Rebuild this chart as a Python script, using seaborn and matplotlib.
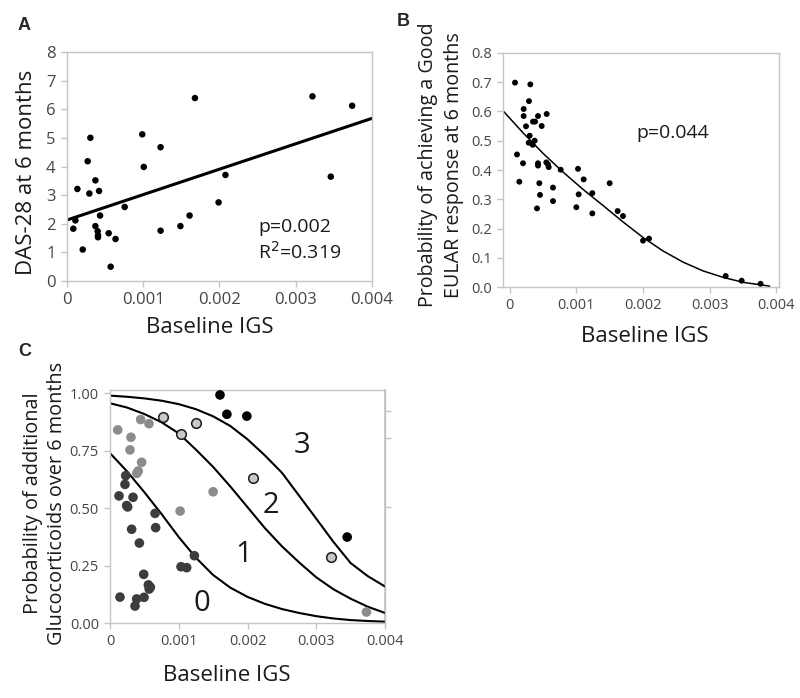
import numpy as np
import pandas as pd
import matplotlib
matplotlib.use("Agg")
import matplotlib.pyplot as plt
import seaborn as sns

# ---- panel A: DAS-28 vs baseline IGS ----
a_igs = [0.000087, 0.000114, 0.00014, 0.00021, 0.000275, 0.000297, 0.00031, 0.000376,
         0.000376, 0.000424, 0.000406, 0.00041, 0.00041, 0.000437, 0.00055, 0.000576,
         0.00064, 0.00076, 0.00099, 0.00101, 0.00123, 0.00123, 0.00149, 0.00161,
         0.00168, 0.00199, 0.00208, 0.00322, 0.00346, 0.00374]
a_das = [1.83, 2.12, 3.22, 1.10, 4.19, 3.06, 5.01, 3.52, 1.92, 3.15, 1.74, 1.60, 1.53,
         2.29, 1.67, 0.50, 1.47, 2.59, 5.13, 3.99, 4.68, 1.76, 1.92, 2.29, 6.40, 2.75,
         3.71, 6.46, 3.65, 6.13]
a_fit_x = [0.0, 0.004]
a_fit_y = [2.13, 5.69]

# ---- panel B: probability of good EULAR response ----
b_igs = [0.00008, 0.00031, 0.00029, 0.00021, 0.00021, 0.000245, 0.00035, 0.00038,
         0.000425, 0.00048, 0.000555, 0.0003, 0.000285, 0.000345, 0.000375, 0.00011,
         0.0002, 0.000145, 0.000425, 0.000425, 0.00055, 0.000575, 0.000585, 0.000765,
         0.000445, 0.000455, 0.00041, 0.00065, 0.00065, 0.001025, 0.00111, 0.001035,
         0.001, 0.00124, 0.00124, 0.0015, 0.00162, 0.0017, 0.002, 0.00209, 0.00324,
         0.00348, 0.003763]
b_prob = [0.698, 0.692, 0.635, 0.608, 0.584, 0.549, 0.565, 0.565, 0.584, 0.55, 0.591,
          0.517, 0.493, 0.486, 0.50, 0.453, 0.423, 0.36, 0.423, 0.415, 0.426, 0.419,
          0.41, 0.401, 0.355, 0.315, 0.269, 0.34, 0.294, 0.404, 0.368, 0.317, 0.273,
          0.321, 0.252, 0.355, 0.26, 0.243, 0.159, 0.166, 0.0385, 0.0225, 0.012]
b_curve_x = [-0.0001, 0.0002, 0.0005, 0.0008, 0.0011, 0.0014, 0.0017, 0.002, 0.0023,
             0.0026, 0.0029, 0.0032, 0.0035, 0.0039]
b_curve_y = [0.602, 0.527, 0.457, 0.393, 0.334, 0.279, 0.223, 0.170, 0.124, 0.086,
             0.056, 0.034, 0.017, 0.004]

# ---- panel C: additional glucocorticoids, 4 groups ----
c0_igs = [0.000228, 0.000218, 0.000131, 0.000335, 0.000242, 0.000257, 0.000655, 0.000664,
          0.000315, 0.000427, 0.001227, 0.001033, 0.001115, 0.00049, 0.000558, 0.000587,
          0.00057, 0.000145, 0.000388, 0.000495, 0.000364]
c0_prob = [0.642, 0.604, 0.554, 0.548, 0.512, 0.506, 0.478, 0.416, 0.409, 0.349, 0.294,
           0.246, 0.242, 0.213, 0.167, 0.157, 0.149, 0.114, 0.106, 0.113, 0.075]
c1_igs = [0.000112, 0.000446, 0.000567, 0.000305, 0.000291, 0.00046, 0.00041, 0.00039,
          0.0015, 0.00102, 0.00373]
c1_prob = [0.841, 0.886, 0.868, 0.809, 0.754, 0.70, 0.662, 0.652, 0.572, 0.488, 0.049]
c2_igs = [0.00077, 0.00103, 0.001246, 0.002085, 0.003215]
c2_prob = [0.899, 0.823, 0.872, 0.633, 0.29]
c3_igs = [0.0016, 0.0017, 0.00199, 0.00345]
c3_prob = [0.993, 0.909, 0.901, 0.375]

c_curve_x = [0, 0.00025, 0.0005, 0.00075, 0.001, 0.00125, 0.0015, 0.00175, 0.002,
             0.00225, 0.0025, 0.00275, 0.003, 0.00325, 0.0035, 0.00375, 0.004]
c_curve0 = [0.74, 0.66, 0.57, 0.475, 0.375, 0.285, 0.21, 0.155, 0.115, 0.085, 0.062,
            0.045, 0.031, 0.021, 0.014, 0.010, 0.007]
c_curve1 = [0.957, 0.938, 0.91, 0.874, 0.826, 0.755, 0.68, 0.595, 0.505, 0.415, 0.335,
            0.265, 0.20, 0.148, 0.107, 0.072, 0.045]
c_curve2 = [0.990, 0.985, 0.978, 0.968, 0.953, 0.931, 0.90, 0.858, 0.80, 0.731, 0.655,
            0.555, 0.455, 0.354, 0.262, 0.205, 0.16]
c_right_ticks = [0.507, 0.807, 0.923]
c_region_labels = ["0", "1", "2", "3"]
c_region_x = [0.00133, 0.00195, 0.00234, 0.00279]
c_region_y = [0.087, 0.30, 0.511, 0.775]

igs_ticks = [0, 0.001, 0.002, 0.003, 0.004]
igs_ticklabels = ["0", "0.001", "0.002", "0.003", "0.004"]

sns.set_theme(style="white")
plt.rcParams["font.family"] = ["Open Sans", "DejaVu Sans"]

SPINE = "#c4c4c4"
TICKTXT = "#454545"
W, H = 800, 698


def frame(ax, labelsize):
    for sp in ax.spines.values():
        sp.set_visible(True)
        sp.set_color(SPINE)
        sp.set_linewidth(1.0)
    ax.tick_params(axis="both", which="both", direction="out", length=4, width=1,
                   color=SPINE, labelcolor=TICKTXT, labelsize=labelsize,
                   bottom=True, left=True, top=False, right=False, pad=4)
    ax.grid(False)


def box(left, top, right, bottom):
    return [left / W, 1 - bottom / H, (right - left) / W, (bottom - top) / H]


fig = plt.figure(figsize=(8, 6.98), dpi=100)

# ---------- A ----------
ax = fig.add_axes(box(66.7, 52.3, 372, 281))
sns.scatterplot(x=a_igs, y=a_das, ax=ax, color="black", s=22, edgecolor="none",
                linewidth=0, zorder=3)
sns.lineplot(x=a_fit_x, y=a_fit_y, ax=ax, color="black", linewidth=2.2,
             estimator=None, sort=False)
ax.set_xlim(0, 0.004)
ax.set_ylim(0, 8)
ax.set_xticks(igs_ticks)
ax.set_xticklabels(igs_ticklabels)
ax.set_yticks(range(0, 9))
frame(ax, 12)
ax.set_xlabel("Baseline IGS", fontsize=16, color="#1a1a1a")
ax.xaxis.label.set_va("center")
ax.xaxis.set_label_coords(0.469, -0.203)
ax.set_ylabel("DAS-28 at 6 months", fontsize=16, color="#1a1a1a")
ax.yaxis.label.set_va("center")
ax.yaxis.set_label_coords(-0.133, 0.477)
ax.text(0.002506, 1.89, "p=0.002", fontsize=14, va="center", color="#1a1a1a")
ax.text(0.002506, 1.01, "R$^2$=0.319", fontsize=14, va="center", color="#1a1a1a")

# ---------- B ----------
ax = fig.add_axes(box(503, 52.7, 779, 287.3))
sns.scatterplot(x=b_igs, y=b_prob, ax=ax, color="black", s=18, edgecolor="none",
                linewidth=0, zorder=3)
sns.lineplot(x=b_curve_x, y=b_curve_y, ax=ax, color="black", linewidth=1.1,
             estimator=None, sort=False)
ax.set_xlim(-0.0001, 0.00404)
ax.set_ylim(0, 0.8)
ax.set_xticks(igs_ticks)
ax.set_xticklabels(igs_ticklabels)
ax.set_yticks(np.arange(0, 0.81, 0.1))
ax.set_yticklabels([f"{v:.1f}" for v in np.arange(0, 0.81, 0.1)])
frame(ax, 10.5)
ax.set_xlabel("Baseline IGS", fontsize=16, color="#1a1a1a")
ax.xaxis.label.set_va("center")
ax.xaxis.set_label_coords(0.514, -0.208)
ax.set_ylabel("Probability of achieving a Good\nEULAR response at 6 months",
              fontsize=14.2, color="#1a1a1a", linespacing=1.35)
ax.yaxis.label.set_va("center")
ax.yaxis.set_label_coords(-0.225, 0.521)
ax.text(0.0019, 0.526, "p=0.044", fontsize=14, va="center", color="#1a1a1a")

# ---------- C ----------
ax = fig.add_axes(box(110, 390, 385, 623.3))
groups = [
    (c0_igs, c0_prob, "#3c3c3c", "none", 0),
    (c1_igs, c1_prob, "#8c8c8c", "none", 0),
    (c2_igs, c2_prob, "#c8c8c8", "#1a1a1a", 1.1),
    (c3_igs, c3_prob, "#000000", "none", 0),
]
for gx, gy, col, ec, lw in groups:
    sns.scatterplot(x=gx, y=gy, ax=ax, color=col, s=48, edgecolor=ec, linewidth=lw,
                    zorder=3)
for cy in (c_curve0, c_curve1, c_curve2):
    sns.lineplot(x=c_curve_x, y=cy, ax=ax, color="black", linewidth=1.5,
                 estimator=None, sort=False)
for lab, tx, ty in zip(c_region_labels, c_region_x, c_region_y):
    ax.text(tx, ty, lab, fontsize=21, ha="center", va="center", color="#1a1a1a")
ax.set_xlim(0, 0.004)
ax.set_ylim(0, 1.0145)
ax.set_xticks(igs_ticks)
ax.set_xticklabels(igs_ticklabels)
ax.set_yticks([0, 0.25, 0.5, 0.75, 1.0])
ax.set_yticklabels(["0.00", "0.25", "0.50", "0.75", "1.00"])
frame(ax, 10.5)
sec = ax.secondary_yaxis("right")
sec.set_yticks(c_right_ticks)
sec.set_yticklabels([])
sec.tick_params(direction="out", length=4, width=1, color=SPINE, right=True)
for sp in sec.spines.values():
    sp.set_color(SPINE)
ax.set_xlabel("Baseline IGS", fontsize=16, color="#1a1a1a")
ax.xaxis.label.set_va("center")
ax.xaxis.set_label_coords(0.425, -0.222)
ax.set_ylabel("Probability of additional\nGlucocorticoids over 6 months",
              fontsize=14.3, color="#1a1a1a", linespacing=1.3)
ax.yaxis.label.set_va("center")
ax.yaxis.set_label_coords(-0.236, 0.515)

# panel letters
for letter, px, py in [("A", 24, 25), ("B", 403, 22), ("C", 25, 351)]:
    fig.text(px / W, 1 - py / H, letter, fontsize=13, fontweight="bold",
             family="Liberation Sans", ha="center", va="center")

fig.savefig("out.png", dpi=100)
